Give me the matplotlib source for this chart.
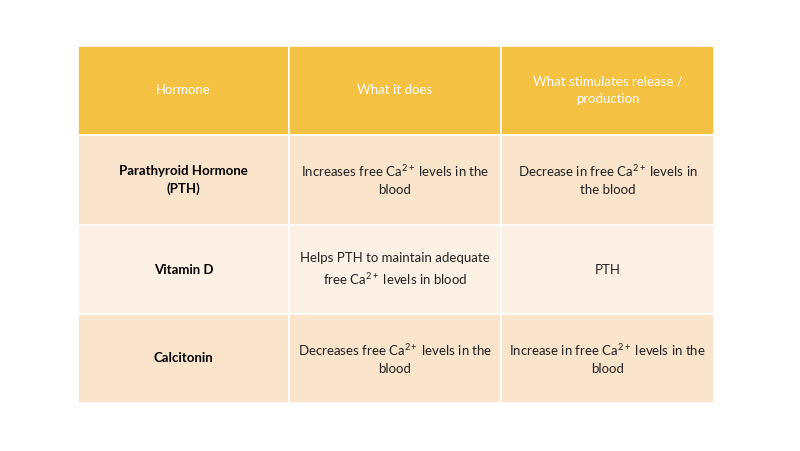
import matplotlib
matplotlib.use("Agg")
import matplotlib.pyplot as plt
from matplotlib.patches import Rectangle

plt.rcParams["font.family"] = "Lato"
plt.rcParams["mathtext.fontset"] = "custom"
plt.rcParams["mathtext.rm"] = "Lato"
plt.rcParams["mathtext.it"] = "Lato"

headers = ["Hormone", "What it does", "What stimulates release /\nproduction"]
hormones = ["Parathyroid Hormone\n(PTH)", "Vitamin D", "Calcitonin"]
effects = ["Increases free Ca$^{2+}$ levels in the\nblood",
           "Helps PTH to maintain adequate\nfree Ca$^{2+}$ levels in blood",
           "Decreases free Ca$^{2+}$ levels in the\nblood"]
stimuli = ["Decrease in free Ca$^{2+}$ levels in\nthe blood",
           "PTH",
           "Increase in free Ca$^{2+}$ levels in the\nblood"]
row_colors = ["#FBE4CC", "#FDF1E6", "#FBE4CC"]
header_color = "#F4C142"

W, H = 800, 451
fig = plt.figure(figsize=(8, 4.51), dpi=100)
ax = fig.add_axes([0, 0, 1, 1])
ax.set_xlim(0, W)
ax.set_ylim(H, 0)
ax.axis("off")

col_x = [78, 289, 501, 714]
row_y = [46, 135, 225, 314, 403]

def cell(r, c, text, color, tcolor, bold):
    x0, x1 = col_x[c], col_x[c + 1]
    y0, y1 = row_y[r], row_y[r + 1]
    ax.add_patch(Rectangle((x0, y0), x1 - x0, y1 - y0, facecolor=color,
                           edgecolor="white", linewidth=1.2))
    ax.text((x0 + x1) / 2, (y0 + y1) / 2, text, ha="center", va="center",
            fontsize=9.5, color=tcolor, fontweight="bold" if bold else "normal",
            linespacing=1.5)

for c, h in enumerate(headers):
    cell(0, c, h, header_color, "white", False)
for r in range(3):
    cell(r + 1, 0, hormones[r], row_colors[r], "black", True)
    cell(r + 1, 1, effects[r], row_colors[r], "#222222", False)
    cell(r + 1, 2, stimuli[r], row_colors[r], "#222222", False)

fig.savefig("out.png", dpi=100, facecolor="white")
